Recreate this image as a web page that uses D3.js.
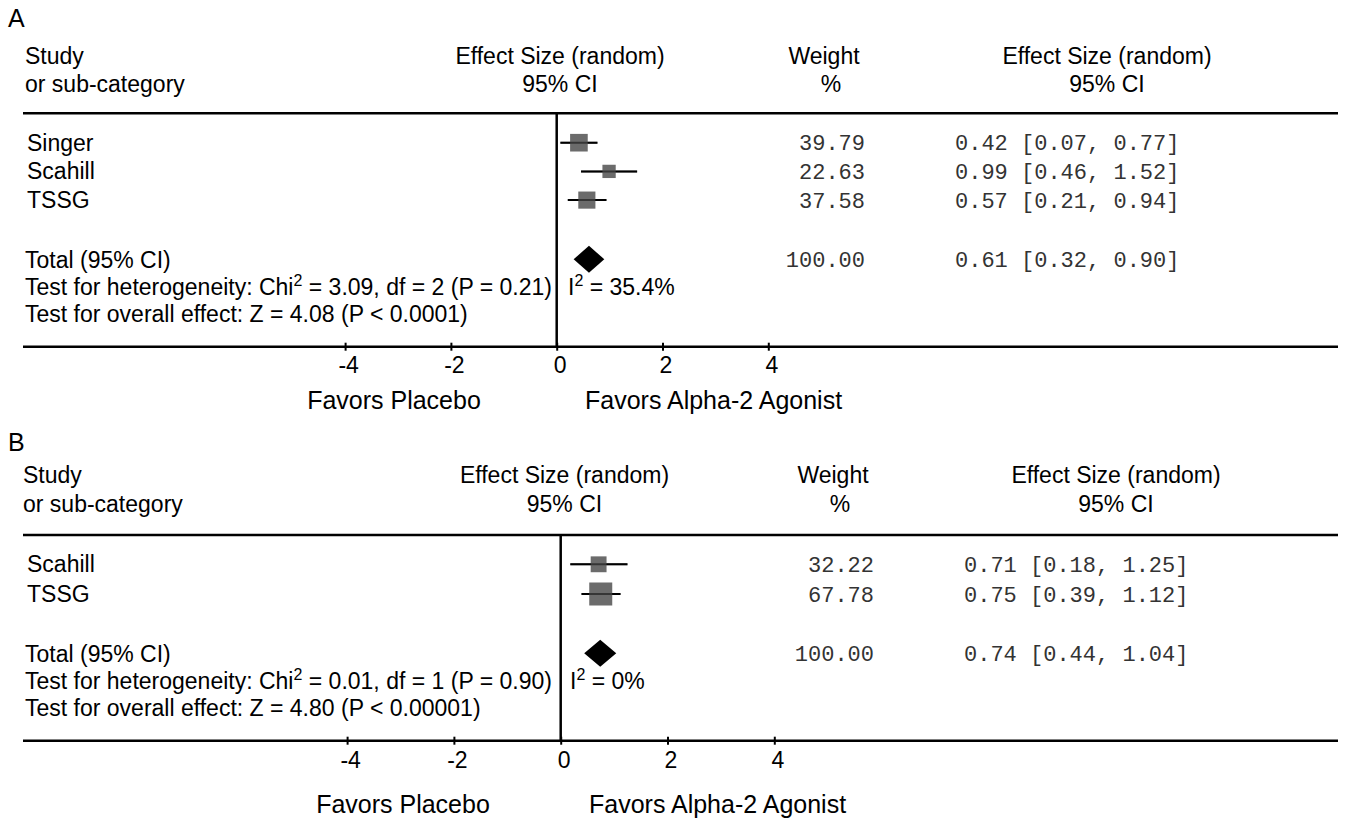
<!DOCTYPE html>
<html>
<head>
<meta charset="utf-8">
<script src="https://cdn.jsdelivr.net/npm/d3@7"></script>
<style>
  html, body { margin: 0; padding: 0; background: #fff; }
  svg { display: block; }
</style>
</head>
<body>
<svg id="chart" width="1359" height="823"></svg>
<script>
// ---------------- DATA ----------------
const panelLabels = ["A", "B"];

const studiesA = ["Singer", "Scahill", "TSSG"];
const effectA = [0.42, 0.99, 0.57];
const lowerA = [0.07, 0.46, 0.21];
const upperA = [0.77, 1.52, 0.94];
const weightA = [39.79, 22.63, 37.58];

const studiesB = ["Scahill", "TSSG"];
const effectB = [0.71, 0.75];
const lowerB = [0.18, 0.39];
const upperB = [1.25, 1.12];
const weightB = [32.22, 67.78];

const totalEffect = [0.61, 0.74];
const totalLower = [0.32, 0.44];
const totalUpper = [0.90, 1.04];
const totalWeight = [100.00, 100.00];

const chiSq = ["3.09", "0.01"];
const dfVals = ["2", "1"];
const hetP = ["0.21", "0.90"];
const iSq = ["35.4%", "0%"];
const zVals = ["4.08", "4.80"];
const zP = ["< 0.0001", "< 0.00001"];

const tickValues = [-4, -2, 0, 2, 4];
const tickLabels = ["-4", "-2", "0", "2", "4"];

// ---------------- LAYOUT ----------------
const SANS = "'Liberation Sans', Arial, Helvetica, sans-serif";
const MONO = "'Liberation Mono', 'Courier New', monospace";
const FS = 23;

const layouts = [
  { labelY: 27, studyX: 25, studyY: 64, subY: 91.5, ruleTop: 113.3, row0: 142.7, rowStep: 28.7,
    totalY: 259.3, ruleBottom: 346.7, tickLabelY: 373.3, favorsY: 409,
    zero: 556.7, unit: 52.9, weightRight: 865, effX: 955,
    hdrEff: 560, hdrW: 824, hdrPct: 831, hdrR: 1107,
    placeboC: 394, agonistX: 585, i2x: 568 },
  { labelY: 450.7, studyX: 23, studyY: 483.3, subY: 511.7, ruleTop: 535, row0: 564.3, rowStep: 29.7,
    totalY: 653.3, ruleBottom: 740.7, tickLabelY: 768.3, favorsY: 813,
    zero: 560.7, unit: 53.4, weightRight: 874, effX: 964,
    hdrEff: 564.5, hdrW: 833, hdrPct: 840, hdrR: 1116,
    placeboC: 403, agonistX: 589, i2x: 570 }
];

const panelsData = [
  { studies: studiesA, eff: effectA, lo: lowerA, hi: upperA, w: weightA },
  { studies: studiesB, eff: effectB, lo: lowerB, hi: upperB, w: weightB }
];

const svg = d3.select("#chart");
const sizeScale = d3.scaleSqrt().domain([0, 67.78]).range([0, 23]);
const fmt2 = d3.format(".2f");

panelsData.forEach((pd, p) => {
  const L = layouts[p];
  const g = svg.append("g");
  const x = d3.scaleLinear().domain([-4, 4]).range([L.zero - 4 * L.unit, L.zero + 4 * L.unit]);
  const y = d3.scaleLinear().domain([0, 1]).range([L.row0, L.row0 + L.rowStep]);

  const txt = (tx, ty, s, opts = {}) => g.append("text")
      .attr("x", tx).attr("y", ty)
      .attr("font-family", opts.mono ? MONO : SANS)
      .attr("font-size", opts.size || FS)
      .attr("text-anchor", opts.anchor || "start")
      .attr("fill", opts.fill || "#000")
      .text(s);

  // panel label
  txt(8, L.labelY, panelLabels[p], { size: 25 });

  // headers
  txt(L.studyX, L.studyY, "Study");
  txt(L.studyX, L.subY, "or sub-category");
  txt(L.hdrEff, L.studyY, "Effect Size (random)", { anchor: "middle" });
  txt(L.hdrEff, L.subY, "95% CI", { anchor: "middle" });
  txt(L.hdrW, L.studyY, "Weight", { anchor: "middle" });
  txt(L.hdrPct, L.subY, "%", { anchor: "middle" });
  txt(L.hdrR, L.studyY, "Effect Size (random)", { anchor: "middle" });
  txt(L.hdrR, L.subY, "95% CI", { anchor: "middle" });

  // rules
  g.append("line").attr("x1", 23).attr("x2", 1338).attr("y1", L.ruleTop).attr("y2", L.ruleTop)
    .attr("stroke", "#000").attr("stroke-width", 2.5);
  g.append("line").attr("x1", 23).attr("x2", 1338).attr("y1", L.ruleBottom).attr("y2", L.ruleBottom)
    .attr("stroke", "#000").attr("stroke-width", 2.5);

  // zero line
  g.append("line").attr("x1", x(0)).attr("x2", x(0)).attr("y1", L.ruleTop).attr("y2", L.ruleBottom)
    .attr("stroke", "#000").attr("stroke-width", 2.5);

  // axis ticks
  const axis = d3.axisBottom(x).tickValues(tickValues).tickSize(8).tickSizeOuter(0)
    .tickFormat((d, i) => tickLabels[i]);
  const ag = g.append("g").attr("transform", `translate(0,${L.ruleBottom - 4})`).call(axis);
  ag.select(".domain").remove();
  ag.selectAll(".tick line").attr("stroke", "#000").attr("stroke-width", 2);
  ag.selectAll(".tick text")
    .attr("y", L.tickLabelY - (L.ruleBottom - 4)).attr("dy", null).attr("dx", 3)
    .attr("font-family", SANS).attr("font-size", FS).attr("fill", "#000");

  // study rows
  pd.studies.forEach((name, i) => {
    const cy = y(i);
    txt(27, cy + 8, name);
    g.append("line").attr("x1", x(pd.lo[i])).attr("x2", x(pd.hi[i]))
      .attr("y1", cy).attr("y2", cy).attr("stroke", "#000").attr("stroke-width", 2);
    const s = sizeScale(pd.w[i]);
    g.append("rect").attr("x", x(pd.eff[i]) - s / 2).attr("y", cy - s / 2)
      .attr("width", s).attr("height", s).attr("fill", "#6b6b6b");
    g.append("line").attr("x1", x(pd.lo[i])).attr("x2", x(pd.hi[i]))
      .attr("y1", cy).attr("y2", cy).attr("stroke", "#000").attr("stroke-width", 2).attr("opacity", 0.5);
    txt(L.weightRight, cy + 7.5, fmt2(pd.w[i]), { mono: true, size: 22, anchor: "end", fill: "#333" });
    txt(L.effX, cy + 7.5, `${fmt2(pd.eff[i])} [${fmt2(pd.lo[i])}, ${fmt2(pd.hi[i])}]`,
      { mono: true, size: 22, fill: "#333" });
  });

  // total row
  const ty = L.totalY;
  const h = 13.5;
  g.append("polygon")
    .attr("points", [[x(totalLower[p]), ty], [x(totalEffect[p]), ty - h], [x(totalUpper[p]), ty], [x(totalEffect[p]), ty + h]]
      .map(d => d.join(",")).join(" "))
    .attr("fill", "#000");
  txt(25, ty + 9, "Total (95% CI)");
  txt(L.weightRight, ty + 7.5, fmt2(totalWeight[p]), { mono: true, size: 22, anchor: "end", fill: "#333" });
  txt(L.effX, ty + 7.5, `${fmt2(totalEffect[p])} [${fmt2(totalLower[p])}, ${fmt2(totalUpper[p])}]`,
    { mono: true, size: 22, fill: "#333" });

  // heterogeneity line with superscripts
  const hy = ty + 36;
  const ht = g.append("text").attr("x", 25).attr("y", hy)
    .attr("font-family", SANS).attr("font-size", FS).attr("fill", "#000");
  ht.append("tspan").text("Test for heterogeneity: Chi");
  ht.append("tspan").attr("font-size", 16).attr("dy", -9).text("2");
  ht.append("tspan").attr("dy", 9).text(` = ${chiSq[p]}, df = ${dfVals[p]} (P = ${hetP[p]})`);

  const it = g.append("text").attr("x", L.i2x).attr("y", hy)
    .attr("font-family", SANS).attr("font-size", FS).attr("fill", "#000");
  it.append("tspan").text("I");
  it.append("tspan").attr("font-size", 16).attr("dy", -9).text("2");
  it.append("tspan").attr("dy", 9).text(` = ${iSq[p]}`);

  txt(25, ty + 62.5, `Test for overall effect: Z = ${zVals[p]} (P ${zP[p]})`);

  // favors labels
  txt(L.placeboC, L.favorsY, "Favors Placebo", { size: 25, anchor: "middle" });
  txt(L.agonistX, L.favorsY, "Favors Alpha-2 Agonist", { size: 25 });
});
</script>
</body>
</html>
